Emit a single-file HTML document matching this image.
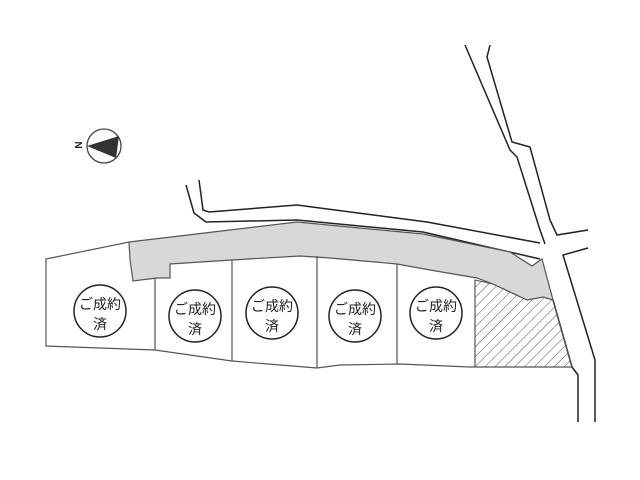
<!DOCTYPE html>
<html><head><meta charset="utf-8"><style>body{margin:0;background:#fff}svg{display:block}text{font-family:"Liberation Sans","Noto Sans CJK JP",sans-serif;font-size:14px;fill:#222}</style></head><body>
<svg width="640" height="480" viewBox="0 0 640 480">
<defs><pattern id="h" width="7" height="7" patternUnits="userSpaceOnUse" patternTransform="rotate(45)"><line x1="0" y1="0" x2="0" y2="7" stroke="#555" stroke-width="1"/></pattern></defs>
<g fill="none" stroke="#222" stroke-width="1.5">
<polyline points="199,180 203,210 209,212 297,205 427,222 540,243"/>
<polyline points="186,185 194,213 206,222 297,220 423,232 540,259"/>
<polyline points="465,45 510,150 517,157 540,230 545,244"/>
<polyline points="490,45 487,57 512,142 530,147 550,220 557,235 588,230"/>
<polyline points="588,248 563,255 595,360 595,422"/>
<polyline points="553,300 572,367 578,375 578,422"/>
</g>
<path d="M475,280 493,284 527,300 543,297 553,300 572,367 475,367Z" fill="url(#h)" stroke="#555" stroke-width="1"/>
<path d="M129,242 297,222 423,234 510,252 532,266 542,259 553,300 543,297 527,300 493,284 477,278 430,270 397,264 330,258 300,256 232,260 170,264 170,278 157,278 133,281 130,260Z" fill="#d8d8d8" stroke="#555" stroke-width="1.2"/>
<g fill="none" stroke="#555" stroke-width="1.2">
<polyline points="129,242 46,259 46,346 155,350 232,361 280,365 317,368 340,365 400,364 470,367 572,367"/>
<line x1="155" y1="278" x2="155" y2="350"/><line x1="232" y1="260" x2="232" y2="361"/><line x1="317" y1="256" x2="317" y2="368"/><line x1="397" y1="264" x2="397" y2="364"/><line x1="475" y1="280" x2="475" y2="367"/>
</g>
<g fill="#fff" stroke="#222" stroke-width="1.5">
<circle cx="100" cy="311" r="26"/><circle cx="195" cy="316" r="26"/><circle cx="272" cy="313" r="26"/><circle cx="355" cy="316" r="26"/><circle cx="436" cy="313" r="26"/>
</g>
<g text-anchor="middle">
<text x="100" y="309">ご成約</text><text x="100" y="329">済</text>
<text x="195" y="314">ご成約</text><text x="195" y="334">済</text>
<text x="272" y="311">ご成約</text><text x="272" y="331">済</text>
<text x="355" y="314">ご成約</text><text x="355" y="334">済</text>
<text x="436" y="311">ご成約</text><text x="436" y="331">済</text>
</g>
<circle cx="104" cy="146" r="17" fill="#fff" stroke="#444" stroke-width="1.3"/>
<polygon points="87,146 119,136 116,158" fill="#333"/>
<text x="78" y="149" text-anchor="middle" style="font-size:10px;font-weight:bold" transform="rotate(-90 78 145)">N</text>
</svg>
</body></html>
